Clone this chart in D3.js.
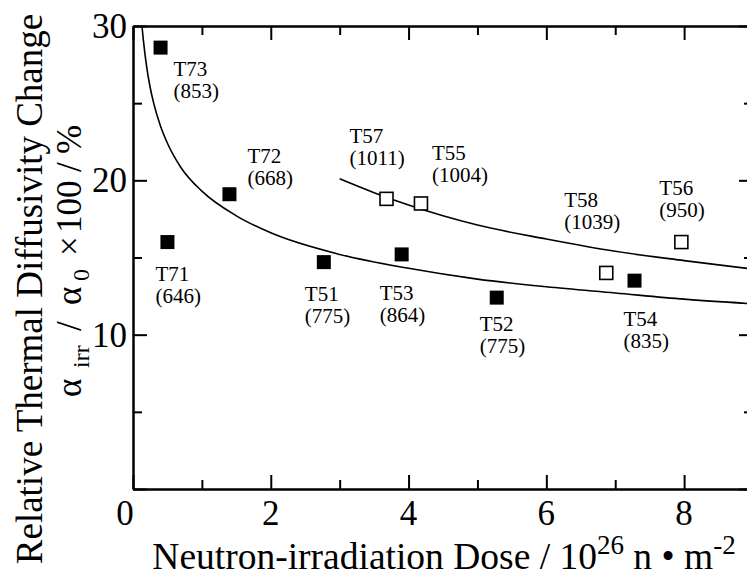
<!DOCTYPE html>
<html><head><meta charset="utf-8">
<script src="https://cdn.jsdelivr.net/npm/d3@7"></script>
<style>
html,body{margin:0;padding:0;background:#fff;}
svg text{font-family:"Times New Roman","Liberation Serif",serif;fill:#000;}
</style></head>
<body><svg id="chart" width="747" height="576"></svg>
<script>
// ---- data ----
const filledNames = ["T73","T71","T72","T51","T53","T52","T54"];
const filledTemps = ["(853)","(646)","(668)","(775)","(864)","(775)","(835)"];
const filledDose  = [0.4, 0.5, 1.4, 2.77, 3.9, 5.28, 7.28];
const filledValue = [28.6, 16.0, 19.1, 14.7, 15.2, 12.4, 13.5];

const openNames = ["T57","T55","T58","T56"];
const openTemps = ["(1011)","(1004)","(1039)","(950)"];
const openDose  = [3.68, 4.18, 6.87, 7.96];
const openValue = [18.8, 18.5, 14.0, 16.0];

// fitted curves
const lowerCurveDose  = [0.13, 0.15, 0.2, 0.25, 0.3, 0.4, 0.5, 0.7, 1.0, 1.5, 2, 3, 4, 5, 6, 7, 8, 9];
const lowerCurveValue = [30.0, 29.1, 27.3, 26.0, 25.0, 23.5, 22.4, 20.8, 19.3, 17.7, 16.6, 15.2, 14.3, 13.6, 13.1, 12.7, 12.3, 12.0];
const upperCurveDose  = [3, 3.5, 4, 4.5, 5, 6, 7, 8, 9];
const upperCurveValue = [20.1, 19.2, 18.4, 17.7, 17.1, 16.2, 15.4, 14.8, 14.25];

const xMajorTicks = [0, 2, 4, 6, 8];
const xMinorTicks = [1, 3, 5, 7];
const yMajorTicks = [0, 10, 20, 30];
const yMinorTicks = [5, 15, 25];

// label offsets (layout only, px from marker centre)
const filledLabelOffsets = [[13,28],[-12,39],[18,-31],[-19,39],[-22,46],[-17,33],[-11,45]];
const openLabelOffsets   = [[-37,-56],[11,-43],[-42,-66],[-22,-47]];

// ---- layout ----
const svg = d3.select("#chart");
const L = 133, R = 753, T = 26, B = 489;
const x = d3.scaleLinear().domain([0, 9]).range([L, R]);
const y = d3.scaleLinear().domain([0, 30]).range([B, T]);

svg.append("defs").append("clipPath").attr("id","clip")
  .append("rect").attr("x",L).attr("y",T).attr("width",R-L).attr("height",B-T);

function axisStyle(g){
  g.selectAll(".domain").attr("stroke","#000").attr("stroke-width",2);
  g.selectAll(".tick line").attr("stroke","#000").attr("stroke-width",2);
}
const MAJ = 14, MIN = 9;
function addAxis(axisFn, scale, ticks, size, tr){
  svg.append("g").attr("transform", tr)
    .call(axisFn(scale).tickValues(ticks).tickSize(-size).tickSizeOuter(0).tickFormat(""))
    .call(axisStyle);
}
addAxis(d3.axisBottom, x, xMajorTicks, MAJ, `translate(0,${B})`);
addAxis(d3.axisBottom, x, xMinorTicks, MIN, `translate(0,${B})`);
addAxis(d3.axisTop,    x, xMajorTicks, MAJ, `translate(0,${T})`);
addAxis(d3.axisTop,    x, xMinorTicks, MIN, `translate(0,${T})`);
addAxis(d3.axisLeft,   y, yMajorTicks, MAJ, `translate(${L},0)`);
addAxis(d3.axisLeft,   y, yMinorTicks, MIN, `translate(${L},0)`);
addAxis(d3.axisRight,  y, yMajorTicks, MAJ, `translate(${R},0)`);
addAxis(d3.axisRight,  y, yMinorTicks, MIN, `translate(${R},0)`);

// tick labels
svg.append("g").selectAll("text").data(xMajorTicks).join("text")
  .attr("x", d => x(d) + (d === 0 ? -8 : 0)).attr("y", 525)
  .attr("text-anchor","middle").attr("font-size",35).text(d => d);
svg.append("g").selectAll("text").data(yMajorTicks.filter(d => d > 0)).join("text")
  .attr("x", 127).attr("y", d => y(d) + 12)
  .attr("text-anchor","end").attr("font-size",35).text(d => d);

// curves
const line = d3.line().x(d => x(d[0])).y(d => y(d[1])).curve(d3.curveMonotoneX);
const plot = svg.append("g").attr("clip-path","url(#clip)");
plot.append("path").datum(d3.zip(lowerCurveDose, lowerCurveValue))
  .attr("d", line).attr("fill","none").attr("stroke","#000").attr("stroke-width",1.6);
plot.append("path").datum(d3.zip(upperCurveDose, upperCurveValue))
  .attr("d", line).attr("fill","none").attr("stroke","#000").attr("stroke-width",1.6);

// markers
const FS = 14, OS = 13;
svg.append("g").selectAll("rect").data(d3.range(filledDose.length)).join("rect")
  .attr("x", i => x(filledDose[i]) - FS/2).attr("y", i => y(filledValue[i]) - FS/2)
  .attr("width", FS).attr("height", FS).attr("fill","#000");
svg.append("g").selectAll("rect").data(d3.range(openDose.length)).join("rect")
  .attr("x", i => x(openDose[i]) - OS/2).attr("y", i => y(openValue[i]) - OS/2)
  .attr("width", OS).attr("height", OS).attr("fill","#fff").attr("stroke","#000").attr("stroke-width",1.6);

// point labels
function addLabels(names, temps, dose, val, offs){
  const g = svg.append("g");
  names.forEach((n, i) => {
    const tx = x(dose[i]) + offs[i][0], ty = y(val[i]) + offs[i][1];
    const t = g.append("text").attr("font-size",21);
    t.append("tspan").attr("x",tx).attr("y",ty).text(n);
    t.append("tspan").attr("x",tx).attr("y",ty + 22).text(temps[i]);
  });
}
addLabels(filledNames, filledTemps, filledDose, filledValue, filledLabelOffsets);
addLabels(openNames, openTemps, openDose, openValue, openLabelOffsets);

// axis titles
const xt = svg.append("text").attr("x", 444).attr("y", 569).attr("text-anchor","middle").attr("font-size",37.5);
xt.append("tspan").text("Neutron-irradiation Dose / 10");
xt.append("tspan").attr("font-size",27).attr("dy",-15).text("26");
xt.append("tspan").attr("dy",15).text(" n \u2022 m");
xt.append("tspan").attr("font-size",27).attr("dy",-15).text("-2");

svg.append("text").attr("transform","translate(42,289) rotate(-90)")
  .attr("text-anchor","middle").attr("font-size",37).text("Relative Thermal Diffusivity Change");

// second title line: pieces placed along the rotated axis (x = -screenY)
const yt2 = svg.append("g").attr("transform","translate(81,0) rotate(-90)");
const pieces = [
  {t:"\u03b1", s:35, at:397, dy:0},
  {t:"irr",    s:24, at:368, dy:8},
  {t:"/",      s:35, at:331, dy:0},
  {t:"\u03b1", s:35, at:305, dy:0},
  {t:"0",      s:24, at:281, dy:8},
  {t:"\u00d7", s:35, at:256, dy:0},
  {t:"100",    s:35, at:233, dy:0},
  {t:"/",      s:35, at:172, dy:0},
  {t:"%",      s:35, at:154, dy:0}
];
yt2.selectAll("text").data(pieces).join("text")
  .attr("x", d => -d.at).attr("y", d => d.dy).attr("font-size", d => d.s).text(d => d.t);
</script></body></html>
